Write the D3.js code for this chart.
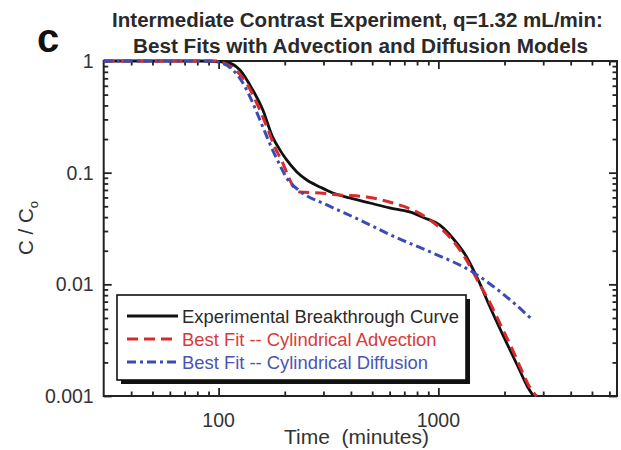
<!DOCTYPE html>
<html><head><meta charset="utf-8">
<script src="https://cdn.jsdelivr.net/npm/d3@7"></script>
<style>body{margin:0;background:#fff;overflow:hidden}</style>
</head><body>
<svg id="chart" width="621" height="450"></svg>
<script>
// ---------- data ----------
const titleLines = ["Intermediate Contrast Experiment, q=1.32 mL/min:", "Best Fits with Advection and Diffusion Models"];
const panelLabel = "c";
const xLabel = "Time  (minutes)";
const xMajorTicks = [100, 1000];
const xTickLabels = ["100", "1000"];
const xMinorTicks = [40, 50, 60, 70, 80, 90, 200, 300, 400, 500, 600, 700, 800, 900, 2000, 3000, 4000, 5000, 6000];
const yMajorTicks = [1, 0.1, 0.01, 0.001];
const yTickLabels = ["1", "0.1", "0.01", "0.001"];
const yMinorTicks = [0.002,0.003,0.004,0.005,0.006,0.007,0.008,0.009,0.02,0.03,0.04,0.05,0.06,0.07,0.08,0.09,0.2,0.3,0.4,0.5,0.6,0.7,0.8,0.9];
const seriesNames = ["Experimental Breakthrough Curve", "Best Fit -- Cylindrical Advection", "Best Fit -- Cylindrical Diffusion"];

const expTime = [30, 82, 107, 125, 143, 159, 176, 190, 204, 227, 252, 289, 331, 395, 487, 600, 740, 866, 1013, 1161, 1344, 1540, 1710, 1899, 2108, 2341, 2545, 2710];
const expConc = [1, 1, 0.98, 0.831, 0.55, 0.364, 0.209, 0.160, 0.130, 0.1015, 0.086, 0.0745, 0.0658, 0.0594, 0.0535, 0.0483, 0.0445, 0.0393, 0.034, 0.026, 0.0176, 0.0103, 0.0064, 0.00407, 0.00264, 0.00171, 0.00121, 0.001];

const advTime = [30, 96, 116, 134, 149, 166, 180, 196, 211, 221, 234, 289, 356, 472, 620, 797, 942, 1125, 1316, 1504, 1710, 1939, 2176, 2390, 2599, 2797];
const advConc = [1, 1, 0.866, 0.635, 0.421, 0.256, 0.170, 0.122, 0.086, 0.073, 0.0672, 0.0658, 0.0632, 0.0606, 0.0535, 0.0445, 0.0362, 0.0266, 0.0176, 0.01095, 0.00696, 0.00416, 0.00259, 0.00171, 0.00121, 0.001];

const difTime = [30, 91, 103.5, 116, 129, 143, 159, 176, 190, 204, 234, 311, 439, 620, 942, 1431, 1840, 2176, 2682];
const difConc = [1, 1, 0.959, 0.831, 0.635, 0.421, 0.256, 0.160, 0.117, 0.0897, 0.0686, 0.0514, 0.0377, 0.0271, 0.0191, 0.0129, 0.0091, 0.00696, 0.0048];

const seriesColors = ["#111111", "#d82a2a", "#3a4bb5"];
const seriesDash = [null, "11,6", "9,4,3,4"];

// ---------- layout ----------
const svg = d3.select("#chart");
const L = 103.7, R = 617, T = 61, B = 396;
const x = d3.scaleLog().domain([30, 6500]).range([L, R]);
const y = d3.scaleLog().domain([0.001, 1]).range([B, T]);
const font = "'Liberation Sans', Arial, Helvetica, sans-serif";
const txt = "#2a2a2a";

// titles
function fitText(sel, target) {
  const w = sel.node().getComputedTextLength();
  const fs = parseFloat(sel.attr("font-size"));
  sel.attr("font-size", (fs * target / w).toFixed(2));
}
const t1 = svg.append("text").attr("x", 357.5).attr("y", 27).attr("text-anchor", "middle")
  .attr("font-family", font).attr("font-weight", "bold").attr("font-size", 20).attr("fill", txt).text(titleLines[0]);
fitText(t1, 491);
const t2 = svg.append("text").attr("x", 360.5).attr("y", 53).attr("text-anchor", "middle")
  .attr("font-family", font).attr("font-weight", "bold").attr("font-size", 20).attr("fill", txt).text(titleLines[1]);
fitText(t2, 455);
svg.append("text").attr("x", 37).attr("y", 52).attr("font-family", font).attr("font-weight", "bold")
  .attr("font-size", 40).attr("fill", "#111").text(panelLabel);

// axes
function drawAxis(axisFn, scale, vals, size, tx, ty) {
  const ax = axisFn(scale).tickValues(vals).tickSizeInner(size).tickSizeOuter(0).tickFormat("");
  const g = svg.append("g").attr("transform", `translate(${tx},${ty})`).call(ax);
  g.select(".domain").remove();
  g.selectAll(".tick line").attr("stroke", "#222").attr("stroke-width", 1.8);
  return g;
}
drawAxis(d3.axisBottom, x, xMajorTicks, -8, 0, B);
drawAxis(d3.axisBottom, x, xMinorTicks, -4.5, 0, B);
svg.append("g").selectAll("text").data(xMajorTicks).join("text")
  .attr("x", d => x(d)).attr("y", B + 31).attr("text-anchor", "middle")
  .attr("font-family", font).attr("font-size", 19.5).attr("fill", "#333").text((d, i) => xTickLabels[i]);
drawAxis(d3.axisTop, x, xMajorTicks, -8, 0, T);
drawAxis(d3.axisTop, x, xMinorTicks, -4.5, 0, T);
drawAxis(d3.axisLeft, y, yMajorTicks, -8, L, 0);
drawAxis(d3.axisLeft, y, yMinorTicks, -4.5, L, 0);
svg.append("g").selectAll("text").data(yMajorTicks).join("text")
  .attr("x", L - 10).attr("y", d => y(d) + 7).attr("text-anchor", "end")
  .attr("font-family", font).attr("font-size", 19.5).attr("fill", "#333").text((d, i) => yTickLabels[i]);
drawAxis(d3.axisRight, y, yMajorTicks, -8, R, 0);
drawAxis(d3.axisRight, y, yMinorTicks, -4.5, R, 0);

// frame
svg.append("rect").attr("x", L).attr("y", T).attr("width", R - L).attr("height", B - T)
  .attr("fill", "none").attr("stroke", "#222").attr("stroke-width", 2);

// axis titles
svg.append("text").attr("x", (281 + 432) / 2).attr("y", 444).attr("text-anchor", "middle")
  .attr("font-family", font).attr("font-size", 21).attr("fill", "#333")
  .style("white-space", "pre").text(xLabel);
const yl = svg.append("text").attr("transform", "translate(33,228) rotate(-90)").attr("text-anchor", "middle")
  .attr("font-family", font).attr("font-size", 20.5).attr("fill", "#333");
yl.append("tspan").text("C / C");
yl.append("tspan").attr("font-size", 13).attr("dy", 5).text("o");

// curves
const line = d3.line().x(d => x(d[0])).y(d => y(d[1])).curve(d3.curveMonotoneX);
const series = [
  d3.zip(expTime, expConc),
  d3.zip(advTime, advConc),
  d3.zip(difTime, difConc)
];
series.forEach((s, i) => {
  svg.append("path").datum(s).attr("d", line).attr("fill", "none")
    .attr("stroke", seriesColors[i]).attr("stroke-width", i === 0 ? 2.8 : 3)
    .attr("stroke-dasharray", seriesDash[i]).attr("stroke-linejoin", "round");
});

// legend
const lx = 117, ly = 295, lw = 349, lh = 85;
svg.append("rect").attr("x", lx + 4).attr("y", ly + 4).attr("width", lw).attr("height", lh).attr("fill", "#111");
svg.append("rect").attr("x", lx).attr("y", ly).attr("width", lw).attr("height", lh)
  .attr("fill", "#fff").attr("stroke", "#111").attr("stroke-width", 1.6);
const legendColors = ["#2a2a2a", "#d83a3a", "#4a54b8"];
seriesNames.forEach((name, i) => {
  const cy = ly + 21 + i * 23;
  svg.append("line").attr("x1", lx + 10).attr("x2", lx + 61).attr("y1", cy).attr("y2", cy)
    .attr("stroke", seriesColors[i]).attr("stroke-width", 3).attr("stroke-dasharray", seriesDash[i]);
  svg.append("text").attr("x", lx + 65).attr("y", cy + 6.5).attr("font-family", font).attr("font-size", 18.4)
    .attr("fill", legendColors[i]).text(name);
});
</script>
</body></html>
